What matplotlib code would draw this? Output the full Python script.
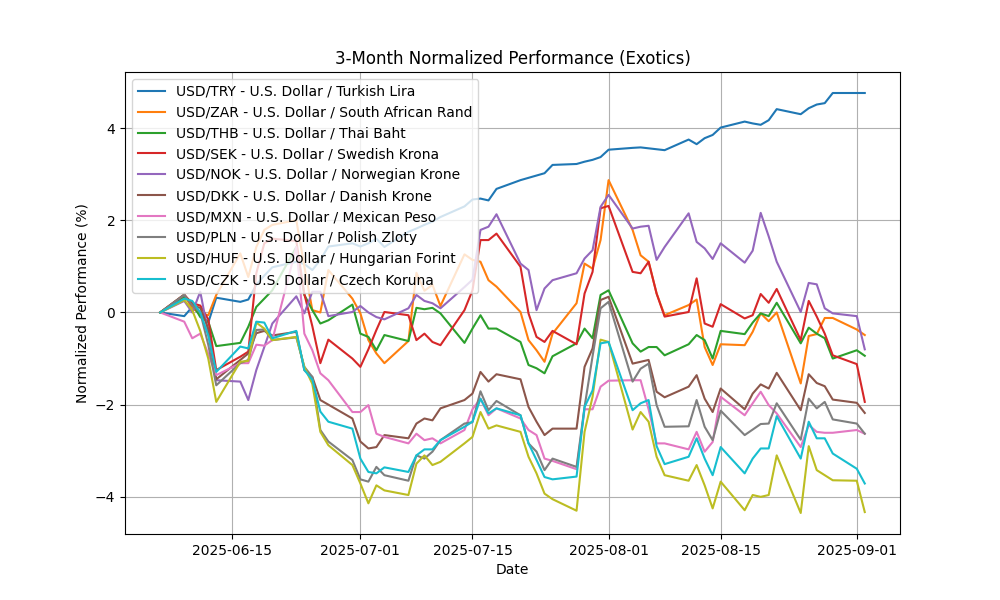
import matplotlib
matplotlib.use("Agg")
import matplotlib.pyplot as plt
import pandas as pd

# trading days shown on the chart (weekdays only)
dates = pd.bdate_range("2025-06-06", "2025-09-02")

labels = [
    "USD/TRY - U.S. Dollar / Turkish Lira",
    "USD/ZAR - U.S. Dollar / South African Rand",
    "USD/THB - U.S. Dollar / Thai Baht",
    "USD/SEK - U.S. Dollar / Swedish Krona",
    "USD/NOK - U.S. Dollar / Norwegian Krone",
    "USD/DKK - U.S. Dollar / Danish Krone",
    "USD/MXN - U.S. Dollar / Mexican Peso",
    "USD/PLN - U.S. Dollar / Polish Zloty",
    "USD/HUF - U.S. Dollar / Hungarian Forint",
    "USD/CZK - U.S. Dollar / Czech Koruna",
]

# normalized performance (%), one value per trading day
usd_try = [0.00,
           -0.08, 0.12, -0.05, -0.22, 0.32,
           0.23, 0.28, 0.60, 0.80, 0.98,
           1.10, 1.05, 0.92, 1.14, 1.43,
           1.50, 1.43, 1.50, 1.60, 1.42,
           1.75, 1.82, 1.90, 1.97, 2.07,
           2.30, 2.45, 2.47, 2.43, 2.68,
           2.87, 2.92, 2.97, 3.02, 3.20,
           3.22, 3.27, 3.31, 3.37, 3.53,
           3.57, 3.58, 3.56, 3.54, 3.52,
           3.75, 3.65, 3.78, 3.85, 4.01,
           4.14, 4.10, 4.07, 4.17, 4.41,
           4.30, 4.43, 4.51, 4.54, 4.76,
           4.76, 4.76]

usd_zar = [0.00,
           0.38, 0.09, -0.02, -0.06, 0.38,
           1.28, 0.77, 1.42, 1.79, 1.90,
           2.00, 1.00, 0.05, 0.00, 0.92,
           0.30, -0.02, -0.60, -0.89, -1.10,
           -0.62, 0.86, 0.47, 0.60, 0.14,
           1.26, 1.14, 1.10, 0.70, 0.56,
           0.01, -0.60, -0.82, -1.07, -0.46,
           0.20, 1.06, 0.95, 1.57, 2.87,
           1.79, 1.24, 1.10, 0.41, -0.06,
           0.16, 0.28, -0.75, -1.14, -0.69,
           -0.71, -0.42, -0.02, -0.19, 0.00,
           -1.54, -0.51, -0.47, -0.12, -0.12,
           -0.37, -0.49]

usd_thb = [0.00,
           0.34, 0.20, -0.10, -0.20, -0.73,
           -0.66, -0.31, 0.12, 0.30, 0.48,
           1.42, 0.38, 0.05, -0.24, -0.17,
           0.17, -0.46, -0.53, -0.82, -0.49,
           -0.62, 0.10, 0.07, 0.10, -0.02,
           -0.66, -0.35, -0.06, -0.35, -0.35,
           -0.64, -1.14, -1.21, -1.32, -0.95,
           -0.67, -0.35, -0.56, 0.38, 0.48,
           -0.67, -0.85, -0.75, -0.75, -0.93,
           -0.69, -0.49, -0.60, -1.00, -0.40,
           -0.47, -0.22, -0.02, -0.08, 0.21,
           -0.67, -0.33, -0.46, -0.56, -1.00,
           -0.82, -0.94]

usd_sek = [0.00,
           0.38, 0.20, 0.15, -0.15, -1.25,
           -0.96, -0.85, 0.85, 1.50, 1.60,
           1.55, 0.40, -0.30, -1.10, -0.59,
           -1.00, -1.18, -0.80, -0.38, 0.01,
           -0.06, -0.60, -0.46, -0.64, -0.71,
           0.05, 0.48, 1.57, 1.57, 1.71,
           0.99, -0.02, -0.53, -0.64, -0.40,
           -0.69, 0.41, 0.88, 2.26, 2.31,
           0.88, 0.85, 1.10, 0.41, -0.09,
           0.01, 0.74, -0.24, -0.31, 0.18,
           -0.13, -0.06, 0.40, 0.21, 0.51,
           -0.60, 0.25, -0.09, -0.46, -0.93,
           -1.12, -1.94]

usd_nok = [0.00,
           0.25, 0.00, 0.45, -0.45, -1.47,
           -1.50, -1.90, -1.25, -0.75, -0.24,
           0.35, -0.02, 0.45, 0.45, -0.08,
           0.01, 0.14, 0.00, -0.10, -0.15,
           0.09, 0.38, 0.25, 0.20, 0.09,
           0.55, 0.71, 1.79, 1.86, 2.13,
           1.06, 0.92, 0.05, 0.52, 0.70,
           0.85, 1.17, 1.35, 2.29, 2.55,
           1.82, 1.86, 1.88, 1.14, 1.42,
           2.15, 1.53, 1.39, 1.16, 1.50,
           1.08, 1.34, 2.16, 1.65, 1.10,
           0.01, 0.64, 0.61, 0.09, -0.02,
           -0.08, -0.80]

usd_dkk = [0.00,
           0.39, 0.15, 0.10, -0.35, -1.45,
           -1.03, -0.89, -0.45, -0.40, -0.50,
           -0.42, -1.25, -1.40, -1.90, -2.00,
           -2.30, -2.80, -2.95, -2.92, -2.66,
           -2.73, -2.41, -2.30, -2.34, -2.08,
           -1.90, -1.76, -1.29, -1.50, -1.34,
           -1.45, -2.05, -2.37, -2.66, -2.52,
           -2.52, -1.18, -0.78, 0.27, 0.34,
           -1.11, -1.07, -1.03, -1.72, -1.84,
           -1.61, -1.36, -1.87, -2.16, -1.65,
           -2.10, -1.76, -1.56, -1.65, -1.31,
           -2.12, -1.34, -1.53, -1.60, -1.89,
           -1.96, -2.18]

usd_mxn = [0.00,
           -0.20, -0.56, -0.46, -0.90, -1.36,
           -1.10, -1.10, -0.70, -0.72, -0.60,
           1.42, -0.46, -0.82, -1.32, -1.47,
           -2.16, -2.16, -2.01, -2.63, -2.70,
           -2.84, -2.63, -2.77, -2.73, -2.84,
           -2.55, -2.10, -1.87, -2.23, -2.08,
           -2.30, -2.55, -2.66, -3.17, -3.22,
           -3.40, -2.10, -2.10, -1.61, -1.48,
           -1.47, -1.47, -2.10, -2.84, -2.84,
           -2.97, -2.59, -3.02, -2.81, -1.83,
           -2.23, -1.97, -1.72, -2.01, -2.19,
           -2.92, -2.44, -2.59, -2.61, -2.61,
           -2.55, -2.63]

usd_pln = [0.00,
           0.38, 0.15, 0.00, -0.70, -1.58,
           -1.10, -1.03, -0.38, -0.37, -0.60,
           -0.54, -1.18, -1.40, -2.55, -2.80,
           -3.20, -3.62, -3.67, -3.35, -3.53,
           -3.65, -3.10, -3.17, -3.02, -2.77,
           -2.41, -2.38, -1.71, -2.12, -1.92,
           -2.23, -2.84, -3.02, -3.42, -3.17,
           -3.35, -2.05, -0.95, 0.09, 0.23,
           -1.50, -1.22, -1.11, -2.01, -2.48,
           -2.47, -1.90, -2.48, -2.77, -2.13,
           -2.66, -2.54, -2.42, -2.41, -1.97,
           -2.76, -1.87, -2.08, -1.94, -2.32,
           -2.41, -2.63]

usd_huf = [0.00,
           0.27, 0.05, -0.40, -1.00, -1.94,
           -1.07, -1.05, -0.22, -0.35, -0.60,
           -0.53, -1.18, -1.55, -2.59, -2.88,
           -3.31, -3.71, -4.14, -3.75, -3.86,
           -3.96, -3.28, -3.10, -3.31, -3.24,
           -2.84, -2.70, -2.16, -2.52, -2.45,
           -2.59, -3.13, -3.49, -3.93, -4.05,
           -4.30, -2.59, -1.83, -0.59, -0.64,
           -2.54, -2.16, -2.37, -3.13, -3.53,
           -3.65, -3.31, -3.75, -4.25, -3.67,
           -4.29, -3.96, -4.00, -3.96, -3.10,
           -4.35, -2.90, -3.42, -3.53, -3.64,
           -3.65, -4.33]

usd_czk = [0.00,
           0.30, 0.25, 0.00, -0.50, -1.29,
           -0.74, -0.78, -0.20, -0.22, -0.56,
           -0.40, -1.25, -1.46, -2.15, -2.37,
           -2.52, -3.17, -3.46, -3.49, -3.36,
           -3.46, -3.10, -2.97, -2.97, -2.77,
           -2.48, -2.37, -1.87, -2.19, -2.08,
           -2.23, -2.84, -3.20, -3.57, -3.62,
           -3.56, -2.05, -1.69, -0.67, -0.64,
           -2.12, -1.97, -1.90, -2.90, -3.29,
           -3.13, -2.73, -3.17, -3.53, -2.92,
           -3.49, -3.17, -2.95, -2.95, -2.25,
           -3.17, -2.37, -2.73, -2.73, -3.06,
           -3.39, -3.71]

series = [usd_try, usd_zar, usd_thb, usd_sek, usd_nok,
          usd_dkk, usd_mxn, usd_pln, usd_huf, usd_czk]

fig, ax = plt.subplots(figsize=(10, 6), dpi=100)
for values, label in zip(series, labels):
    ax.plot(dates, values, label=label)

ax.set_title("3-Month Normalized Performance (Exotics)")
ax.set_xlabel("Date")
ax.set_ylabel("Normalized Performance (%)")
ax.grid(True)
ax.legend(loc="upper left")

fig.savefig("out.png")
